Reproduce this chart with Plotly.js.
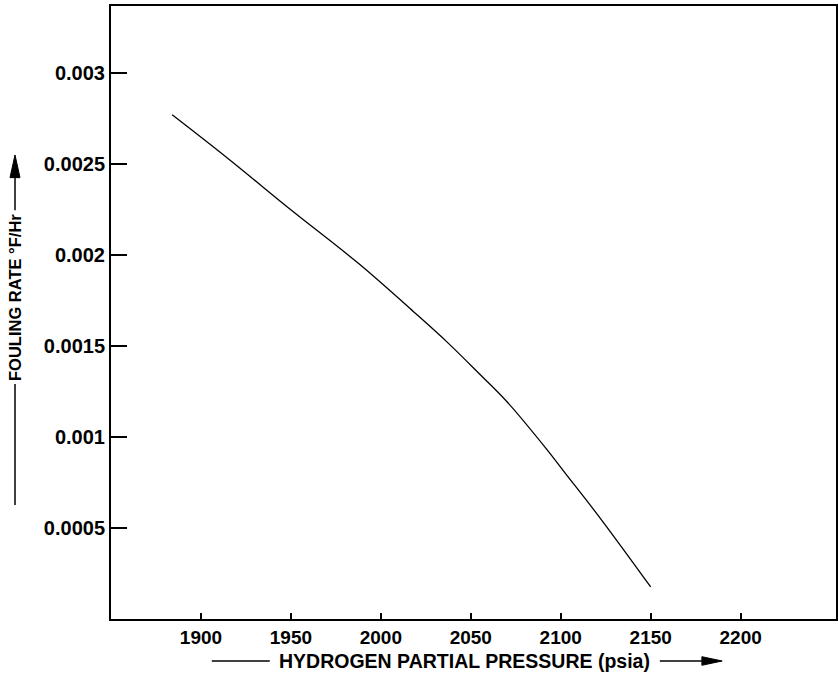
<!DOCTYPE html>
<html>
<head>
<meta charset="utf-8">
<script src="https://cdn.plot.ly/plotly-3.0.1.min.js"></script>
<style>html,body{margin:0;padding:0;background:#fff;}#chart{width:838px;height:695px;}</style>
</head>
<body>
<div id="chart"></div>
<script>
// Data
const pressure = [1884, 1915, 1951, 1988, 2018, 2037, 2055, 2070, 2092, 2103, 2118, 2132, 2150];
const foulingRate = [0.00277, 0.00253, 0.00224, 0.00195, 0.00169, 0.00152, 0.001345, 0.001195, 0.000935, 0.000795, 0.000605, 0.000420, 0.000176];
const xTickVals = [1900, 1950, 2000, 2050, 2100, 2150, 2200];
const xTickText = ['1900', '1950', '2000', '2050', '2100', '2150', '2200'];
const yTickVals = [0.0005, 0.001, 0.0015, 0.002, 0.0025, 0.003];
const yTickText = ['0.0005', '0.001', '0.0015', '0.002', '0.0025', '0.003'];
const xTitle = 'HYDROGEN PARTIAL PRESSURE (psia)';
const yTitle = 'FOULING RATE °F/Hr';

const FONT = 'Liberation Sans, Arial, Helvetica, sans-serif';

const trace = {
  x: pressure,
  y: foulingRate,
  type: 'scatter',
  mode: 'lines',
  line: {color: '#000', width: 1.3, shape: 'spline', smoothing: 1},
  hoverinfo: 'x+y',
  showlegend: false
};

const layout = {
  width: 838,
  height: 695,
  margin: {l: 111, r: 2, t: 6, b: 76},
  paper_bgcolor: '#fff',
  plot_bgcolor: '#fff',
  font: {family: FONT, color: '#000', size: 19, weight: 'bold'},
  xaxis: {
    range: [1850, 2253],
    tickmode: 'array',
    tickvals: xTickVals,
    ticktext: xTickText,
    ticks: 'inside',
    ticklen: 6,
    tickwidth: 2,
    tickcolor: '#000',
    showline: true,
    linecolor: '#000',
    linewidth: 2,
    mirror: true,
    showgrid: false,
    zeroline: false,
    tickfont: {family: FONT, size: 19, color: '#000', weight: 'bold'}
  },
  yaxis: {
    range: [0, 0.003368],
    tickmode: 'array',
    tickvals: yTickVals,
    ticktext: yTickText,
    ticks: 'inside',
    ticklen: 16,
    tickwidth: 2,
    tickcolor: '#000',
    showline: true,
    linecolor: '#000',
    linewidth: 2,
    mirror: true,
    showgrid: false,
    zeroline: false,
    tickfont: {family: FONT, size: 20, color: '#000', weight: 'bold'}
  },
  annotations: [
    {text: xTitle, xref: 'paper', yref: 'paper', x: 0.488, y: -0.0685, xanchor: 'center', yanchor: 'middle', showarrow: false,
     font: {family: FONT, size: 19.5, color: '#000', weight: 'bold'}},
    {text: yTitle, xref: 'paper', yref: 'paper', x: -0.1324, y: 0.5237, xanchor: 'center', yanchor: 'middle', textangle: -90, showarrow: false,
     font: {family: FONT, size: 16.5, color: '#000', weight: 'bold'}}
  ],
  shapes: [
    // x title decorations
    {type: 'line', xref: 'paper', yref: 'paper', x0: 0.139, x1: 0.219, y0: -0.0685, y1: -0.0685, line: {color: '#000', width: 1.5}},
    {type: 'line', xref: 'paper', yref: 'paper', x0: 0.757, x1: 0.823, y0: -0.0685, y1: -0.0685, line: {color: '#000', width: 1.5}},
    {type: 'path', xref: 'paper', yref: 'paper', path: 'M 0.815 -0.0615 L 0.843 -0.0685 L 0.815 -0.0755 Z', fillcolor: '#000', line: {color: '#000', width: 1}},
    // y title decorations
    {type: 'line', xref: 'paper', yref: 'paper', x0: -0.1324, x1: -0.1324, y0: 0.667, y1: 0.73, line: {color: '#000', width: 1.5}},
    {type: 'path', xref: 'paper', yref: 'paper', path: 'M -0.1393 0.72 L -0.1324 0.757 L -0.1255 0.72 Z', fillcolor: '#000', line: {color: '#000', width: 1}},
    {type: 'line', xref: 'paper', yref: 'paper', x0: -0.1324, x1: -0.1324, y0: 0.3835, y1: 0.186, line: {color: '#000', width: 1.5}}
  ]
};

Plotly.newPlot('chart', [trace], layout, {displayModeBar: false, staticPlot: true});
</script>
</body>
</html>
